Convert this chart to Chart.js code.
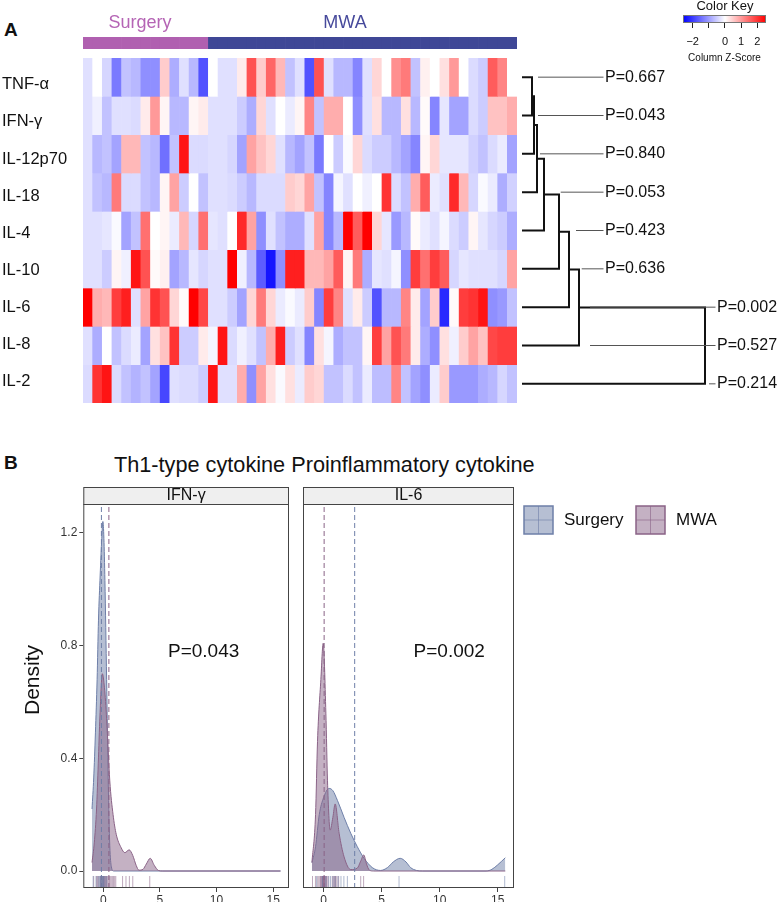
<!DOCTYPE html>
<html>
<head>
<meta charset="utf-8">
<script src="https://cdn.jsdelivr.net/npm/chart.js@4.4.1/dist/chart.umd.min.js"></script>
<style>
  body { margin: 0; background: #fff; }
  #wrap { position: relative; width: 782px; height: 902px; overflow: hidden; font-family: "Liberation Sans", Arial, sans-serif; }
  canvas { position: absolute; }
  .lbl { position: absolute; white-space: nowrap; color: #111; }
</style>
</head>
<body>
<div id="wrap">
  <div class="lbl" style="left:4px;top:19px;font-size:19px;font-weight:bold;">A</div>
  <div class="lbl" style="left:4px;top:452px;font-size:19px;font-weight:bold;">B</div>
  <div class="lbl" style="left:114px;top:452px;font-size:21.7px;">Th1-type cytokine Proinflammatory cytokine</div>
  <canvas id="groupBar" width="434" height="49" style="left:83px;top:0"></canvas>
  <canvas id="heat" width="517" height="345" style="left:0;top:58px"></canvas>
  <canvas id="dendro" width="265" height="345" style="left:517px;top:58px"></canvas>
  <canvas id="key" width="122" height="64" style="left:660px;top:0"></canvas>
  <canvas id="densL" width="296" height="415" style="left:0;top:487px"></canvas>
  <canvas id="densR" width="486" height="415" style="left:296px;top:487px"></canvas>
</div>
<script>
// ---- heatmap data (column z-scores, 13 Surgery + 32 MWA patients) ----
const cytokines = ['TNF-α', 'IFN-γ', 'IL-12p70', 'IL-18', 'IL-4', 'IL-10', 'IL-6', 'IL-8', 'IL-2'];
const surgeryCount = 13;
const mwaCount = 32;

const zTNF = [-0.3, 0, -0.4, -1.3, -0.6, -0.7, -1.1, -1.1, 0.5, -0.8, -0.3, -0.7, -1.7, 0, -0.3,
  -0.3, 0.2, 1.7, 0.5, 1.5, 0.7, -0.6, -0.3, -1.7, 1.7, -0.3, -0.7, -0.7, -1.2, -0.3,
  0.4, 0, 1.1, 1.3, -0.6, 0.15, 0, 0.3, 1.0, 0, -0.35, -0.5, 1.6, 1.2, 0];
const zIFN = [-0.3, -0.15, -0.6, -0.3, -0.3, -0.35, 0.2, 1.0, 0.1, -0.7, -0.7, 0.1, 0.2, -0.3, -0.3,
  -0.3, -0.5, -0.8, 0.4, -0.3, 0, -0.2, 0.1, 1.2, -0.6, 0.8, 0.8, 0, -1.1, -0.3,
  0.3, -0.7, -0.7, 0.3, -0.7, 0.05, -1.2, -0.25, -0.9, -0.9, -0.35, -0.5, 0.6, 0.6, 0.8];
const zIL12 = [-0.3, -0.7, -0.6, -0.9, 0.7, 0.7, -0.6, -0.7, -1.4, -0.6, 2.3, -0.35, -0.35, -0.3, -0.3,
  -0.4, -0.9, 0.9, 0.6, 0.4, -0.3, -0.7, -0.9, -0.6, -1.3, 0, -0.5, -0.05, 0.4, -0.35,
  -0.5, -0.5, -0.7, -0.9, -1.2, 0.1, 0.4, -0.25, -0.25, -0.25, -0.45, -0.6, -0.35, -0.2, -0.9];
const zIL18 = [-0.3, -0.6, -0.7, 1.3, -0.35, -0.35, -0.6, -0.7, 0.1, 0.9, -0.5, 0, -0.6, -0.3, -0.3,
  -0.35, -0.5, -0.7, -0.35, -0.35, -0.35, 0.5, 0.4, 0.9, -0.6, -1.2, -0.1, -0.3, 0, -0.15,
  0, 2.0, -0.35, -0.6, 0.8, 1.6, -0.2, -0.3, 2.1, 0.7, -0.4, -0.05, -0.2, -0.8, -0.45];
const zIL4 = [-0.3, -0.3, -0.25, -0.05, -0.9, -0.6, 1.4, 0, 0.1, -0.2, 0.7, -0.4, 1.4, -0.25, -0.3,
  0, 2.1, 0.9, -1.1, -0.3, -0.6, -0.8, -0.8, -0.3, 0.9, -1.2, -0.7, 2.5, 1.6, 2.5,
  0.4, -0.25, -1.0, -0.7, 0.05, -0.2, -0.3, -0.1, -0.35, -0.5, 0.1, -0.25, -0.4, -0.5, -0.8];
const zIL10 = [-0.3, -0.3, -0.5, 0.1, -0.15, 2.3, 1.7, 0.05, 0.15, -0.9, -0.7, -0.25, -0.4, -0.3, -0.3,
  2.5, -0.15, -0.7, -1.6, -2.3, -1.1, 2.2, 2.2, 0.7, 0.7, 0.9, 1.6, 0.1, 1.3, -0.8,
  -0.25, -0.3, -0.1, -1.1, 1.9, 1.4, 1.9, 1.6, -0.4, -0.25, -0.3, -0.3, -0.3, -0.4, 0.9];
const zIL6 = [2.5, 0.8, 0.7, 1.9, 2.2, -0.3, 0.9, 2.0, 1.7, 0.4, 0.05, 2.5, 1.8, -0.3, -0.3,
  -0.5, -0.9, 0.4, 1.3, 0.4, -0.2, -0.05, -0.2, 0.5, -1.2, 1.9, 1.2, -0.3, 0.2, -0.5,
  -1.7, -0.7, -0.7, 1.2, 0.2, -0.9, 0.5, -2.1, 0.05, 1.9, 2.0, 2.3, -1.1, -1.0, -0.6];
const zIL8 = [-0.3, -0.8, 0, -0.6, -0.35, -0.2, -0.9, 0.3, 0.6, 2.0, -0.5, -0.5, 0.2, -0.1, 2.3,
  -0.35, -0.15, -0.3, -0.6, 0.8, 2.2, -0.5, -0.3, -1.2, 0.3, -0.1, -0.8, -0.6, -0.6, 0.1,
  1.9, 0.9, 1.7, 1.3, 0.2, -0.8, -1.1, 0.3, -0.15, 0.5, 0.9, 0.6, 1.8, 1.9, 1.9];
const zIL2 = [-0.35, 2.0, 2.3, -0.35, -0.6, -0.75, -0.6, -0.9, -1.8, -0.3, -0.35, -0.35, -0.5, 2.3, -0.3,
  -0.3, 0.8, -1.1, 0.9, 0.3, -0.05, 0.3, -0.2, 0.5, 0.4, -0.6, -0.6, -0.35, -0.6, -0.2,
  -0.65, -0.65, 1.2, -0.6, -0.9, -1.1, -0.2, 0.5, -1.0, -1.0, -1.0, -0.8, -0.7, -0.4, -0.6];
const zRows = [zTNF, zIFN, zIL12, zIL18, zIL4, zIL10, zIL6, zIL8, zIL2];

// row dendrogram (hclust style: negative = leaf) and p-values per row
const dendroMerge = [[-1, -2], [1, -3], [2, -4], [3, -5], [4, -6], [5, -7], [6, -8], [7, -9]];
const dendroHeight = [10, 12, 15, 22, 37, 47, 57, 183];
const pValues = ['0.667', '0.043', '0.840', '0.053', '0.423', '0.636', '0.002', '0.527', '0.214'];
const leaderFrom = [16, 16, 18, 38.7, 54, 59.7, 68, 68, 187];
const labelAt = [83, 83, 83, 83, 83, 83, 195, 195, 195];

// colour key
const keyMin = -2.6, keyMax = 2.54;
const keyTicks = [-2, -1, 0, 1, 2];
const keyTickLabels = ['\u22122', '', '0', '1', '2'];

// ---- panel B: densities ----
const densIFNSurgery = [[-1.0, 0.22], [-0.85, 0.33], [-0.7, 0.49], [-0.55, 0.68], [-0.43, 0.89], [-0.28, 1.05],
  [-0.14, 1.18], [-0.04, 1.24], [0.05, 1.18], [0.14, 1.03], [0.29, 0.68], [0.43, 0.32], [0.57, 0.09],
  [0.71, 0.015], [0.9, 0], [15.65, 0]];
const densIFNMWA = [[-1.0, 0.03], [-0.8, 0.1], [-0.6, 0.22], [-0.45, 0.38], [-0.3, 0.55], [-0.09, 0.70],
  [0.1, 0.65], [0.29, 0.54], [0.57, 0.32], [0.86, 0.2], [1.14, 0.13], [1.57, 0.083], [1.9, 0.065],
  [2.28, 0.075], [2.6, 0.055], [2.9, 0.02], [3.14, 0.003], [3.5, 0.006], [3.8, 0.025], [4.14, 0.045],
  [4.5, 0.02], [4.86, 0.002], [5.2, 0], [15.65, 0]];
const densIL6Surgery = [[-1.0, 0.03], [-0.69, 0.086], [-0.37, 0.2], [0.0, 0.26], [0.48, 0.293], [0.8, 0.285],
  [1.2, 0.25], [1.77, 0.19], [2.34, 0.134], [2.91, 0.086], [3.49, 0.045], [4.2, 0.012], [4.91, 0.002],
  [5.5, 0.012], [6.0, 0.032], [6.6, 0.045], [7.1, 0.032], [7.5, 0.012], [8.0, 0.002], [8.5, 0],
  [14.0, 0], [14.5, 0.006], [15.0, 0.022], [15.65, 0.047]];
const densIL6MWA = [[-1.0, 0.03], [-0.69, 0.2], [-0.52, 0.46], [-0.23, 0.68], [-0.03, 0.808], [0.2, 0.56],
  [0.34, 0.32], [0.57, 0.145], [0.8, 0.19], [1.0, 0.238], [1.34, 0.134], [1.77, 0.05], [2.34, 0.005],
  [2.9, 0.01], [3.2, 0.035], [3.46, 0.057], [3.7, 0.025], [3.95, 0.003], [4.3, 0], [15.65, 0]];

// rug values and group means (dashed lines)
const rugIFNSurgery = [-0.9, -0.65, -0.45, -0.35, -0.25, -0.2, -0.15, -0.1, -0.05, 0.0, 0.05, 0.15, 0.3];
const rugIFNMWA = [-0.85, -0.6, -0.5, -0.45, -0.3, -0.25, -0.2, -0.15, -0.1, -0.05, 0, 0, 0.05, 0.1, 0.15, 0.2,
  0.25, 0.3, 0.35, 0.45, 0.55, 0.6, 0.7, 0.8, 0.9, 1.0, 1.1, 1.7, 2.0, 2.3, 2.6, 4.1];
const rugIL6Surgery = [-0.6, -0.1, 0.2, 0.45, 0.6, 0.8, 1.0, 1.25, 1.5, 1.75, 2.05, 6.5, 15.6];
const rugIL6MWA = [-0.95, -0.7, -0.5, -0.4, -0.3, -0.25, -0.2, -0.15, -0.1, -0.1, -0.05, -0.05, 0, 0, 0.05, 0.05,
  0.1, 0.1, 0.15, 0.2, 0.25, 0.3, 0.4, 0.75, 0.85, 0.95, 1.0, 1.05, 1.15, 1.3, 3.2, 3.45];
const meanIFN = [-0.17, 0.49];   // Surgery, MWA
const meanIL6 = [2.68, 0.05];

const xMin = -1.77, xMax = 16.4, yMin = -0.0603, yMax = 1.302;
const xTicks = [0, 5, 10, 15];
const yTicks = [0, 0.4, 0.8, 1.2];

const SURG_LINE = '#6e7fa8', SURG_FILL = 'rgba(110,127,168,0.5)', SURG_RUG = 'rgba(110,127,168,0.55)';
const MWA_LINE = '#8a6387', MWA_FILL = 'rgba(138,99,135,0.5)', MWA_RUG = 'rgba(138,99,135,0.55)';
const FONT = '"Liberation Sans", Arial, sans-serif';

Chart.defaults.font.family = FONT;
Chart.defaults.color = '#111';
Chart.defaults.animation = false;
Chart.defaults.responsive = false;
Chart.defaults.plugins.legend.display = false;
Chart.defaults.plugins.tooltip.enabled = false;

function zColor(z) {
  const t = Math.min(1, Math.abs(z) / 2.5);
  const c = Math.round(255 * (1 - t));
  return z < 0 ? `rgb(${c},${c},255)` : `rgb(255,${c},${c})`;
}

// ---- group annotation bar ----
const groups = zTNF.map((_, i) => i < surgeryCount ? 'Surgery' : 'MWA');
const groupColor = { Surgery: '#b060b0', MWA: '#3f4796' };
new Chart(document.getElementById('groupBar'), {
  type: 'bar',
  data: {
    labels: groups.map((_, i) => i + 1),
    datasets: [{
      data: groups.map(() => 1),
      backgroundColor: groups.map(g => groupColor[g]),
      borderWidth: 0, categoryPercentage: 1, barPercentage: 1
    }]
  },
  options: {
    layout: { padding: { top: 37 } },
    scales: { x: { display: false }, y: { display: false, min: 0, max: 1 } }
  },
  plugins: [{
    id: 'groupLabels',
    afterDraw(chart) {
      const ctx = chart.ctx;
      ctx.save();
      ctx.font = '18px ' + FONT;
      ctx.textAlign = 'center';
      ctx.textBaseline = 'alphabetic';
      ctx.fillStyle = '#b565b5';
      ctx.fillText('Surgery', 57, 28);
      ctx.fillStyle = '#474a9c';
      ctx.fillText('MWA', 262, 28);
      ctx.restore();
    }
  }]
});

// ---- heatmap: one stacked bar dataset per cytokine row ----
new Chart(document.getElementById('heat'), {
  type: 'bar',
  data: {
    labels: zTNF.map((_, i) => i + 1),
    datasets: zRows.map((row, r) => ({
      label: cytokines[r],
      data: row.map(() => 1),
      backgroundColor: row.map(zColor),
      borderWidth: 0,
      categoryPercentage: 1,
      barPercentage: 1
    }))
  },
  options: {
    layout: { padding: { left: 2 } },
    scales: {
      x: { display: false, stacked: true },
      y: {
        stacked: true, reverse: true, min: 0, max: cytokines.length,
        grid: { display: false }, border: { display: false },
        afterFit: s => { s.width = 81; s.paddingTop = 0; s.paddingBottom = 0; },
        // row labels sit on a slightly tighter pitch than the rows, as in the original figure
        afterBuildTicks: s => { s.ticks = cytokines.map((_, i) => ({ value: 0.7 + 0.968 * i })); },
        ticks: {
          crossAlign: 'far', autoSkip: false, color: '#111', font: { size: 16.5 },
          callback: (v, i) => cytokines[i]
        }
      }
    }
  }
});

// ---- row dendrogram + p-values ----
const nodeY = [];
const treeSets = [];
function childPos(c) {
  return c < 0 ? { x: 0, y: -c - 0.5 } : { x: dendroHeight[c - 1], y: nodeY[c - 1] };
}
dendroMerge.forEach(([a, b], k) => {
  const pa = childPos(a), pb = childPos(b), h = dendroHeight[k];
  treeSets.push({
    data: [{ x: pa.x, y: pa.y }, { x: h, y: pa.y }, { x: h, y: pb.y }, { x: pb.x, y: pb.y }],
    showLine: true, borderColor: '#111', borderWidth: 2, pointRadius: 0, order: 1
  });
  nodeY.push((pa.y + pb.y) / 2);
});
const leaderSets = pValues.map((_, i) => ({
  data: [{ x: leaderFrom[i], y: i + 0.5 }, { x: labelAt[i] - 1.5, y: i + 0.5 }],
  showLine: true, borderColor: '#555', borderWidth: 1, pointRadius: 0, order: 0
}));
new Chart(document.getElementById('dendro'), {
  type: 'scatter',
  data: { datasets: treeSets.concat(leaderSets) },
  options: {
    scales: {
      x: { type: 'linear', display: false, min: -5, max: 260 },
      y: { type: 'linear', display: false, min: 0, max: cytokines.length, reverse: true }
    }
  },
  plugins: [{
    id: 'pLabels',
    afterDatasetsDraw(chart) {
      const { ctx, scales: { x, y } } = chart;
      ctx.save();
      ctx.font = '16px ' + FONT;
      ctx.fillStyle = '#111';
      ctx.textBaseline = 'middle';
      pValues.forEach((p, i) => ctx.fillText('P=' + p, x.getPixelForValue(labelAt[i]), y.getPixelForValue(i + 0.5)));
      ctx.restore();
    }
  }]
});

// ---- colour key ----
new Chart(document.getElementById('key'), {
  type: 'scatter',
  data: { datasets: [] },
  options: {
    layout: { padding: { left: 23, right: 16, top: 15 } },
    scales: {
      x: {
        type: 'linear', min: keyMin, max: keyMax,
        afterFit: s => { s.height = 41; },
        afterBuildTicks: s => { s.ticks = keyTicks.map(v => ({ value: v })); },
        grid: { drawOnChartArea: false, tickLength: 5, color: '#222' },
        border: { display: false },
        ticks: { padding: 7, color: '#111', font: { size: 11 }, callback: v => keyTickLabels[keyTicks.indexOf(v)] },
        title: { display: true, text: 'Column Z-Score', color: '#111', font: { size: 10 }, padding: 0 }
      },
      y: { display: false, min: 0, max: 1 }
    }
  },
  plugins: [{
    id: 'keyBar',
    beforeDatasetsDraw(chart) {
      const { ctx, chartArea: a, scales: { x } } = chart;
      const g = ctx.createLinearGradient(a.left, 0, a.right, 0);
      g.addColorStop(0, zColor(keyMin));
      g.addColorStop((0 - keyMin) / (keyMax - keyMin), '#ffffff');
      g.addColorStop(1, zColor(keyMax));
      ctx.save();
      ctx.fillStyle = g;
      ctx.fillRect(a.left, a.top, a.right - a.left, a.bottom - a.top);
      ctx.strokeStyle = '#777';
      ctx.lineWidth = 1;
      ctx.strokeRect(a.left + 0.5, a.top + 0.5, a.right - a.left - 1, a.bottom - a.top - 1);
      ctx.font = '13px ' + FONT;
      ctx.fillStyle = '#111';
      ctx.textAlign = 'center';
      ctx.textBaseline = 'middle';
      ctx.fillText('Color Key', x.getPixelForValue(0), 6);
      ctx.restore();
    }
  }]
});

// ---- density panels ----
function facetPlugin(strip, pText, pAt, extra) {
  return {
    id: 'facet',
    afterDraw(chart) {
      const { ctx, chartArea: a, scales: { x, y } } = chart;
      ctx.save();
      ctx.strokeStyle = '#444';
      ctx.lineWidth = 1;
      ctx.fillStyle = '#efefef';
      ctx.fillRect(a.left, 0.5, a.right - a.left, a.top - 0.5);
      ctx.strokeRect(a.left + 0.5, 0.5, a.right - a.left - 1, a.top);
      ctx.strokeRect(a.left + 0.5, a.top + 0.5, a.right - a.left - 1, a.bottom - a.top - 1);
      ctx.fillStyle = '#111';
      ctx.textAlign = 'center';
      ctx.textBaseline = 'middle';
      ctx.font = '16px ' + FONT;
      ctx.fillText(strip, (a.left + a.right) / 2, a.top / 2 + 0.5);
      ctx.font = '19px ' + FONT;
      ctx.fillText(pText, x.getPixelForValue(pAt[0]), y.getPixelForValue(pAt[1]));
      if (extra) extra(ctx, a);
      ctx.restore();
    }
  };
}

function panelDatasets(densSurg, densMwa, rugSurg, rugMwa, means) {
  const pts = arr => arr.map(([x, y]) => ({ x, y }));
  const rugY = -0.039;
  const vline = (m, color) => ({
    type: 'line', data: [{ x: m, y: yMin }, { x: m, y: yMax }], borderColor: color,
    borderWidth: 1, borderDash: [5, 3], pointRadius: 0, order: 1
  });
  const rug = (vals, color) => ({
    type: 'scatter', data: vals.map(v => ({ x: v, y: rugY })), pointStyle: 'line', pointRotation: 90,
    pointRadius: 6, pointBorderColor: color, pointBorderWidth: 1, order: 0
  });
  const dens = (d, line, fill, order) => ({
    type: 'line', data: pts(d), borderColor: line, backgroundColor: fill, borderWidth: 1,
    fill: 'origin', pointRadius: 0, cubicInterpolationMode: 'monotone', order
  });
  return [rug(rugSurg, SURG_RUG), rug(rugMwa, MWA_RUG), vline(means[0], SURG_LINE), vline(means[1], MWA_LINE),
    dens(densMwa, MWA_LINE, MWA_FILL, 2), dens(densSurg, SURG_LINE, SURG_FILL, 3)];
}

function panelScales(showY) {
  return {
    x: {
      type: 'linear', min: xMin, max: xMax,
      afterFit: s => { s.height = 14; },
      afterBuildTicks: s => { s.ticks = xTicks.map(v => ({ value: v })); },
      grid: { drawOnChartArea: false, tickLength: 4, color: '#444' },
      border: { display: false },
      ticks: { padding: 1, color: '#333', font: { size: 12 } }
    },
    y: {
      type: 'linear', min: yMin, max: yMax, display: showY,
      afterFit: s => { if (showY) s.width = 83.3; },
      afterBuildTicks: s => { s.ticks = yTicks.map(v => ({ value: v })); },
      grid: { drawOnChartArea: false, tickLength: 4, color: '#444' },
      border: { display: false },
      ticks: { padding: 2, color: '#333', font: { size: 12 }, callback: v => v.toFixed(1) }
    }
  };
}

new Chart(document.getElementById('densL'), {
  type: 'line',
  data: { datasets: panelDatasets(densIFNSurgery, densIFNMWA, rugIFNSurgery, rugIFNMWA, meanIFN) },
  options: { layout: { padding: { top: 17, right: 1 } }, scales: panelScales(true) },
  plugins: [facetPlugin('IFN-γ', 'P=0.043', [8.86, 0.778], ctx => {
    ctx.save();
    ctx.translate(33, 193);
    ctx.rotate(-Math.PI / 2);
    ctx.font = '21px ' + FONT;
    ctx.fillText('Density', 0, 0);
    ctx.restore();
  })]
});

new Chart(document.getElementById('densR'), {
  type: 'line',
  data: { datasets: panelDatasets(densIL6Surgery, densIL6MWA, rugIL6Surgery, rugIL6MWA, meanIL6) },
  options: { layout: { padding: { top: 17, left: 5.3, right: 268 } }, scales: panelScales(false) },
  plugins: [facetPlugin('IL-6', 'P=0.002', [10.82, 0.777], (ctx, a) => {
    // legend: fill key with rug tick and mean line marks
    const key = (x, fill, line, text) => {
      ctx.fillStyle = fill;
      ctx.fillRect(x, 19, 29, 28);
      ctx.strokeStyle = line;
      ctx.lineWidth = 1.5;
      ctx.strokeRect(x, 19, 29, 28);
      ctx.lineWidth = 1;
      ctx.globalAlpha = 0.6;
      ctx.beginPath();
      ctx.moveTo(x, 33); ctx.lineTo(x + 29, 33);
      ctx.moveTo(x + 14.5, 19); ctx.lineTo(x + 14.5, 47);
      ctx.stroke();
      ctx.globalAlpha = 1;
      ctx.fillStyle = '#111';
      ctx.textAlign = 'left';
      ctx.font = '17px ' + FONT;
      ctx.fillText(text, x + 40, 33);
    };
    key(228, SURG_FILL, SURG_LINE, 'Surgery');
    key(340, MWA_FILL, MWA_LINE, 'MWA');
  })]
});
</script>
</body>
</html>
